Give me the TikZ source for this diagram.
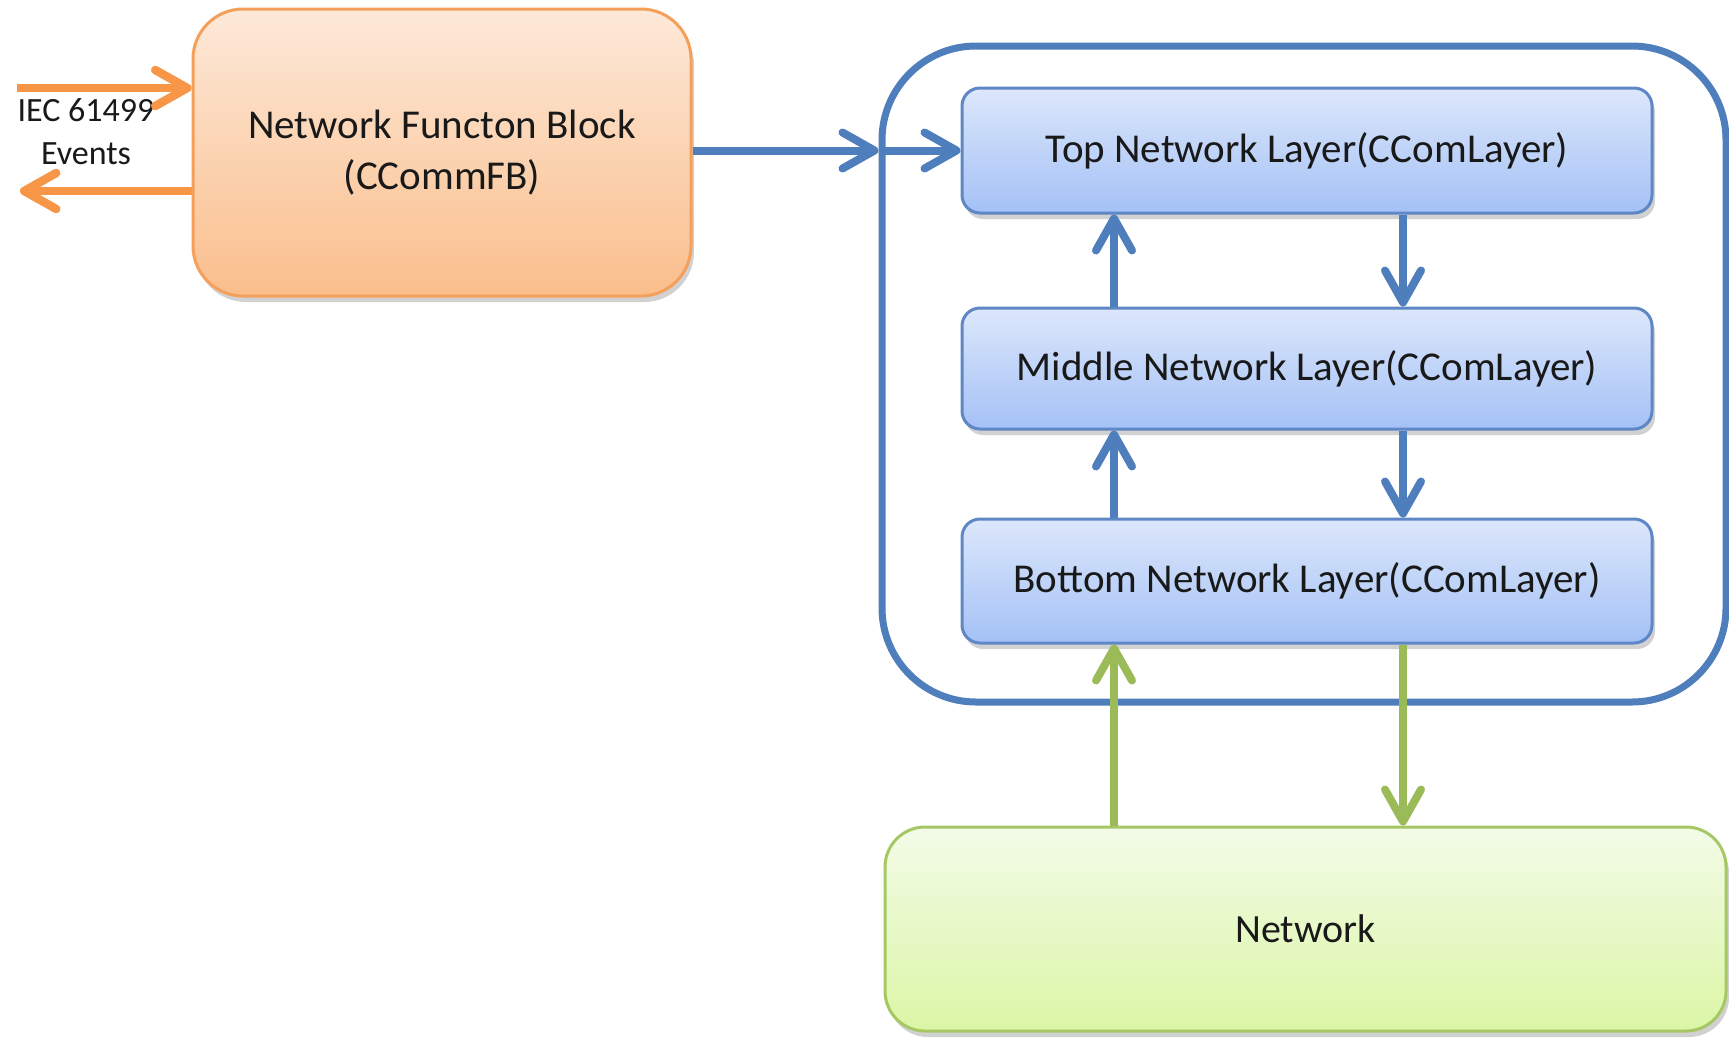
\documentclass[tikz,border=0pt]{standalone}
\usepackage{fontspec}
\setmainfont{Carlito}
\usetikzlibrary{arrows.meta,shadows}

\definecolor{fbEdge}{RGB}{245,160,90}
\definecolor{fbTop}{RGB}{253,233,217}
\definecolor{fbBot}{RGB}{250,190,140}
\definecolor{evOrange}{RGB}{246,150,70}
\definecolor{layEdge}{RGB}{95,135,198}
\definecolor{layTop}{RGB}{220,231,251}
\definecolor{layBot}{RGB}{164,193,246}
\definecolor{stackBlue}{RGB}{79,126,188}
\definecolor{netEdge}{RGB}{165,200,100}
\definecolor{netTop}{RGB}{243,251,232}
\definecolor{netBot}{RGB}{219,246,165}
\definecolor{linkGreen}{RGB}{155,187,89}
\definecolor{ink}{RGB}{25,25,25}

\tikzset{
  softshadow/.style={drop shadow={shadow xshift=3pt,shadow yshift=-6pt,opacity=0.18,fill=black}},
  fbbox/.style={draw=fbEdge,line width=3pt,rounded corners=50pt,
    top color=fbTop,bottom color=fbBot,softshadow,
    text=ink,align=center,font=\fontsize{41}{51}\selectfont},
  layerbox/.style={draw=layEdge,line width=3pt,rounded corners=18pt,
    top color=layTop,bottom color=layBot,softshadow,
    minimum width=690pt,text=ink,font=\fontsize{41}{46}\selectfont},
  netbox/.style={draw=netEdge,line width=3pt,rounded corners=40pt,
    top color=netTop,bottom color=netBot,softshadow,
    text=ink,font=\fontsize{40}{46}\selectfont},
  stackframe/.style={draw=stackBlue,line width=7pt,rounded corners=94pt},
  tipshape/.style={-{Straight Barb[length=32pt,width=36pt,round]}},
  evarrow/.style={draw=evOrange,line width=8.5pt,tipshape},
  bluearrow/.style={draw=stackBlue,line width=8pt,tipshape},
  greenarrow/.style={draw=linkGreen,line width=8pt,tipshape},
  evlabel/.style={text=ink,align=center,font=\fontsize{34}{43}\selectfont}
}

\begin{document}
\begin{tikzpicture}[x=1pt,y=-1pt]
\useasboundingbox (0,0) rectangle (1729,1037);

% function block and its event interface
\node[fbbox,minimum width=498pt,minimum height=287pt] (fb) at (442,152.5)
  {Network Functon Block\\(CCommFB)};
\node[evlabel] (ev) at (86,132) {IEC 61499\\Events};
\coordinate (evin) at (17,88);
\coordinate (evout) at (20,191);
\draw[evarrow] (evin) -- (evin -| fb.west);
\draw[evarrow] (evout -| fb.west) -- (evout);

% layer stack
\node[stackframe,minimum width=844pt,minimum height=656pt] (stack) at (1304,374) {};
\node[layerbox,minimum height=125pt] (top) at (1307,150.5) {Top Network Layer(CComLayer)};
\node[layerbox,minimum height=121pt] (mid) at (1307,368.5) {Middle Network Layer(CComLayer)};
\node[layerbox,minimum height=124pt] (bot) at (1307,581) {Bottom Network Layer(CComLayer)};

% network
\node[netbox,minimum width=841pt,minimum height=204pt] (net) at (1305.5,929) {Network};

% connectors
\coordinate (upx) at (1114,0);
\coordinate (dnx) at (1403,0);
\draw[bluearrow] (fb.east |- top.west) -- (stack.west |- top.west);
\draw[bluearrow] (stack.west |- top.west) -- (top.west);
\draw[bluearrow] (mid.north -| upx) -- (top.south -| upx);
\draw[bluearrow] (top.south -| dnx) -- (mid.north -| dnx);
\draw[bluearrow] (bot.north -| upx) -- (mid.south -| upx);
\draw[bluearrow] (mid.south -| dnx) -- (bot.north -| dnx);
\draw[greenarrow] (net.north -| upx) -- (bot.south -| upx);
\draw[greenarrow] (bot.south -| dnx) -- (net.north -| dnx);
\end{tikzpicture}
\end{document}
